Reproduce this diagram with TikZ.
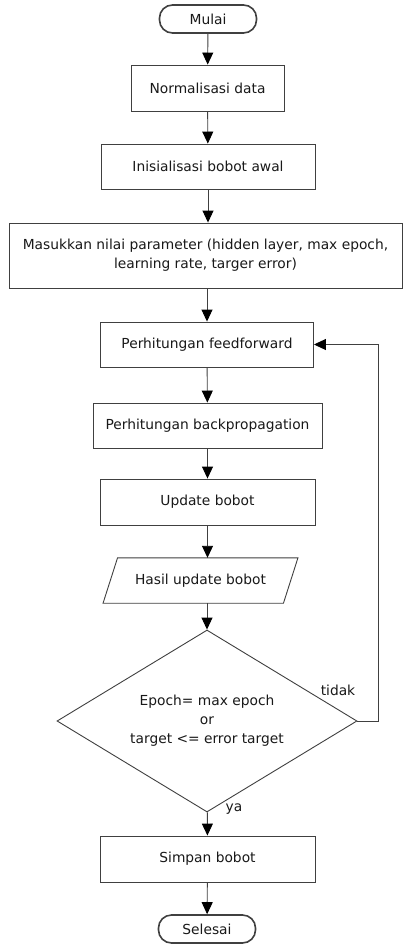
\documentclass[tikz,border=0pt]{standalone}
\usepackage{fontspec}
\setmainfont{DejaVu Sans}
\usetikzlibrary{arrows.meta,shapes.geometric}
\begin{document}
\begin{tikzpicture}[x=1pt,y=-1pt,
  txt/.style={font=\fontsize{13.8}{19}\selectfont, text=black!90},
  box/.style={txt, draw=black!75, line width=0.9pt, rectangle, inner sep=0pt, align=center},
  term/.style={box, line width=1.6pt, rounded corners=13pt},
  plain/.style={txt, rectangle, inner sep=0pt, align=center},
  dec/.style={box, diamond, aspect=1.65},
  arr/.style={draw=black!75, line width=0.9pt, -{Triangle[length=12pt,width=11pt,color=black]}},
  lbl/.style={txt, inner sep=0pt}
]
\useasboundingbox[fill=white] (0,0) rectangle (403,947);

\node[term, minimum width=97, minimum height=28] (mulai) at (208,19) {Mulai};
\node[box, minimum width=153, minimum height=46] (norm) at (207.5,88) {Normalisasi data};
\node[box, minimum width=214, minimum height=45] (init) at (208,166.5) {Inisialisasi bobot awal};
\node[box, minimum width=393, minimum height=65] (param) at (205.5,255.5) {Masukkan nilai parameter (hidden layer, max epoch,\\learning rate, targer error)};
\node[box, minimum width=213, minimum height=45] (ff) at (207,344.5) {Perhitungan feedforward};
\node[box, minimum width=229, minimum height=45] (bp) at (207.5,425.5) {Perhitungan backpropagation};
\node[box, minimum width=215, minimum height=46] (upd) at (207.5,502) {Update bobot};
\node[plain, minimum width=180, minimum height=45] (hasil) at (200.5,580.5) {Hasil update bobot};
\draw[draw=black!75, line width=0.9pt]
  ([xshift=7.25pt]hasil.north west) -- ([xshift=7.25pt]hasil.north east)
  -- ([xshift=-7.25pt]hasil.south east) -- ([xshift=-7.25pt]hasil.south west) -- cycle;
\node[dec, minimum width=300, minimum height=182] (cek) at (207,721) {Epoch= max epoch\\or\\target <= error target};
\node[box, minimum width=215, minimum height=46] (simpan) at (207.5,859) {Simpan bobot};
\node[term, minimum width=97, minimum height=28] (selesai) at (207,929) {Selesai};

\coordinate (c1) at (378,721);
\coordinate (c2) at (378,344.5);
\node[lbl] (tidak) at (338,690) {tidak};
\node[lbl] (ya) at (234,809) {ya};

\draw[arr] (mulai) -- (norm);
\draw[arr] (norm) -- (init);
\draw[arr] (init.south) -- (param.north -| init.south);
\draw[arr] (param.south -| ff.north) -- (ff);
\draw[arr] (ff) -- (bp);
\draw[arr] (bp) -- (upd);
\draw[arr] (upd.south) -- (hasil.north -| upd.south);
\draw[arr] (hasil.south -| cek.north) -- (cek.north);
\draw[arr] (cek) -- (simpan);
\draw[arr] (simpan) -- (selesai);
\draw[arr] (cek.east) -- (c1) -- (c2) -- (ff.east);
\end{tikzpicture}
\end{document}
